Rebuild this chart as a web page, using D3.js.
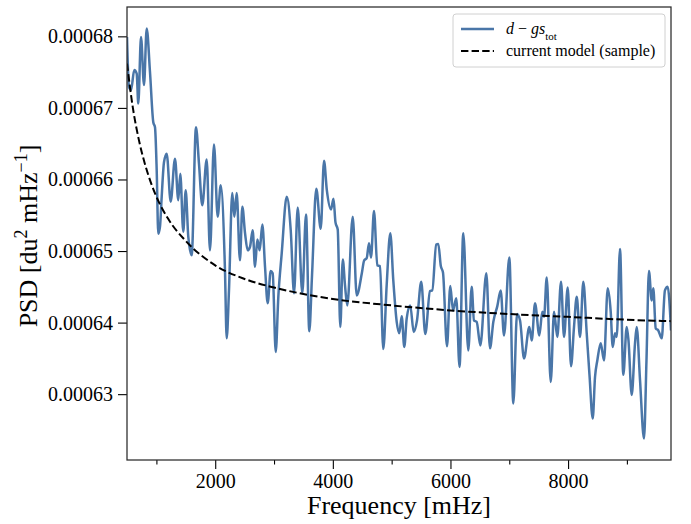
<!DOCTYPE html>
<html>
<head>
<meta charset="utf-8">
<script src="https://cdn.jsdelivr.net/npm/d3@7"></script>
<style>
  html, body { margin: 0; padding: 0; background: #fff; }
  svg { display: block; }
  text { font-family: "Liberation Serif", "DejaVu Serif", serif; fill: #000; }
</style>
</head>
<body>
<svg id="chart" width="691" height="524"></svg>
<script>
// ---- data ----
const freq = [500,534,568,624,665,692,738,789,835,891,947,976,1005,1032,1061,1090,1129,1175,1243,1316,1372,1406,1457,1498,1542,1600,1673,1724,1780,1855,1911,1979,2042,2093,2166,2195,2234,2290,2325,2365,2421,2461,2507,2552,2592,2637,2677,2716,2756,2801,2847,2892,2943,2977,3029,3073,3131,3216,3284,3340,3403,3481,3544,3600,3646,3719,3794,3850,3898,3969,4011,4045,4083,4127,4169,4207,4246,4338,4406,4493,4533,4576,4615,4649,4700,4756,4802,4858,4916,4977,5028,5086,5130,5171,5215,5256,5316,5375,5431,5503,5572,5652,5691,5758,5793,5836,5873,5941,5997,6043,6099,6154,6218,6303,6361,6400,6446,6508,6610,6672,6729,6797,6854,6911,7001,7069,7132,7183,7251,7341,7382,7438,7511,7562,7591,7637,7705,7761,7817,7880,7931,7994,8050,8101,8147,8203,8259,8317,8364,8419,8458,8497,8555,8611,8674,8725,8759,8798,8827,8883,8939,8997,9027,9082,9138,9167,9223,9291,9333,9375,9422,9449,9490,9534,9592,9647,9694,9750];
const residualPSD = [0.0006799,0.0006729,0.0006725,0.0006753,0.0006748,0.0006706,0.0006799,0.0006732,0.0006811,0.0006750,0.0006680,0.0006673,0.0006613,0.0006524,0.0006534,0.0006576,0.0006624,0.0006636,0.0006569,0.0006629,0.0006571,0.0006608,0.0006527,0.0006585,0.0006520,0.0006494,0.0006673,0.0006622,0.0006564,0.0006628,0.0006501,0.0006649,0.0006548,0.0006592,0.0006473,0.0006378,0.0006445,0.0006581,0.0006548,0.0006581,0.0006487,0.0006562,0.0006525,0.0006501,0.0006506,0.0006529,0.0006478,0.0006516,0.0006501,0.0006537,0.0006478,0.0006427,0.0006472,0.0006469,0.0006359,0.0006436,0.0006497,0.0006576,0.0006529,0.0006441,0.0006561,0.0006441,0.0006551,0.0006388,0.0006466,0.0006587,0.0006531,0.0006626,0.0006585,0.0006558,0.0006573,0.0006540,0.0006530,0.0006394,0.0006488,0.0006452,0.0006424,0.0006548,0.0006438,0.0006469,0.0006487,0.0006490,0.0006511,0.0006491,0.0006556,0.0006480,0.0006479,0.0006363,0.0006453,0.0006525,0.0006459,0.0006401,0.0006385,0.0006409,0.0006366,0.0006406,0.0006424,0.0006387,0.0006403,0.0006457,0.0006384,0.0006444,0.0006445,0.0006509,0.0006510,0.0006479,0.0006470,0.0006367,0.0006451,0.0006417,0.0006434,0.0006338,0.0006525,0.0006361,0.0006450,0.0006403,0.0006401,0.0006368,0.0006469,0.0006364,0.0006401,0.0006423,0.0006445,0.0006382,0.0006491,0.0006287,0.0006412,0.0006403,0.0006350,0.0006394,0.0006375,0.0006427,0.0006382,0.0006415,0.0006408,0.0006463,0.0006317,0.0006415,0.0006380,0.0006457,0.0006380,0.0006449,0.0006339,0.0006394,0.0006436,0.0006380,0.0006457,0.0006385,0.0006327,0.0006266,0.0006324,0.0006347,0.0006371,0.0006347,0.0006448,0.0006415,0.0006366,0.0006385,0.0006380,0.0006503,0.0006327,0.0006394,0.0006375,0.0006299,0.0006371,0.0006394,0.0006320,0.0006238,0.0006347,0.0006472,0.0006431,0.0006448,0.0006392,0.0006389,0.0006378,0.0006445,0.0006450,0.0006389];

const modelFreq = [500,600,700,800,900,1000,1200,1500,2000,2500,3000,3500,4000,5000,6000,7000,8000,9000,9750];
const modelPSD  = [0.0006762,0.0006700,0.0006656,0.0006623,0.0006597,0.0006576,0.0006545,0.0006514,0.0006480,0.0006461,0.0006449,0.0006440,0.0006433,0.0006424,0.0006417,0.0006412,0.0006408,0.0006404,0.0006402];

const xMajorTicks = [2000,4000,6000,8000];
const xMinorTicks = [1000,3000,5000,7000,9000];
const yTicks = [0.00063,0.00064,0.00065,0.00066,0.00067,0.00068];
const xLimits = [500, 9750];
const yLimits = [0.0006208, 0.0006841];

// ---- layout ----
const W = 691, H = 524;
const m = {left: 127, right: 20, top: 7, bottom: 64};
const svg = d3.select("#chart");
const SERIF = "'Liberation Serif', 'Times New Roman', serif";

const x = d3.scaleLinear().domain(xLimits).range([m.left, W - m.right]);
const y = d3.scaleLinear().domain(yLimits).range([H - m.bottom, m.top]);

const blue = "#4a76a8";

svg.append("defs").append("clipPath").attr("id","clip")
  .append("rect").attr("x", m.left).attr("y", m.top)
  .attr("width", W - m.left - m.right).attr("height", H - m.top - m.bottom);

const plot = svg.append("g").attr("clip-path","url(#clip)");

// residual line
const resData = freq.map((f,i) => [f, residualPSD[i]]);
plot.append("path")
  .datum(resData)
  .attr("fill","none")
  .attr("stroke", blue)
  .attr("stroke-width", 2.5)
  .attr("stroke-linejoin","round")
  .attr("d", d3.line().x(d => x(d[0])).y(d => y(d[1])).curve(d3.curveMonotoneX));

// model line
const modData = modelFreq.map((f,i) => [f, modelPSD[i]]);
plot.append("path")
  .datum(modData)
  .attr("fill","none")
  .attr("stroke","#000")
  .attr("stroke-width", 2)
  .attr("stroke-dasharray","7.4,3.2")
  .attr("d", d3.line().x(d => x(d[0])).y(d => y(d[1])).curve(d3.curveMonotoneX));

// axes
const fontTick = 20;
svg.append("g").attr("transform", `translate(0,${H - m.bottom})`)
  .call(d3.axisBottom(x).tickValues(xMajorTicks).tickSize(9).tickPadding(5).tickFormat(d3.format("d")))
  .attr("font-family", SERIF).attr("font-size", fontTick);
svg.append("g").attr("transform", `translate(0,${H - m.bottom})`)
  .call(d3.axisBottom(x).tickValues(xMinorTicks).tickSize(4.5).tickFormat(""));
svg.append("g").attr("transform", `translate(${m.left},0)`)
  .call(d3.axisLeft(y).tickValues(yTicks).tickSize(9).tickPadding(5).tickFormat(d => d.toFixed(5)))
  .attr("font-family", SERIF).attr("font-size", fontTick);

svg.selectAll(".domain").remove();
svg.selectAll(".tick line").attr("stroke","#000").attr("stroke-width",1.1);
svg.selectAll(".tick text").attr("fill","#000")
  .style("font-family", SERIF).style("font-size", fontTick + "px");

// frame
svg.append("rect")
  .attr("x", m.left).attr("y", m.top)
  .attr("width", W - m.left - m.right).attr("height", H - m.top - m.bottom)
  .attr("fill","none").attr("stroke","#2a2a2a").attr("stroke-width",1.25);

// axis titles
svg.append("text")
  .attr("x", (m.left + W - m.right) / 2).attr("y", 514)
  .attr("text-anchor","middle")
  .style("font-size","26px")
  .text("Frequency [mHz]");

const yl = svg.append("text")
  .attr("transform", "translate(37,236) rotate(-90)")
  .attr("text-anchor","middle")
  .style("font-size","26px");
yl.append("tspan").text("PSD [du");
yl.append("tspan").attr("baseline-shift","super").style("font-size","18px").text("2");
yl.append("tspan").text(" mHz");
yl.append("tspan").attr("baseline-shift","super").style("font-size","18px").text("−1");
yl.append("tspan").text("]");

// legend
const lg = svg.append("g");
lg.append("rect")
  .attr("x", 453).attr("y", 14).attr("width", 212).attr("height", 53)
  .attr("rx", 3).attr("ry", 3)
  .attr("fill","#fff").attr("fill-opacity",0.85)
  .attr("stroke","#d0d0d0").attr("stroke-width",1);

const legY1 = 29, legY2 = 51;
lg.append("line").attr("x1",461).attr("x2",494).attr("y1",legY1).attr("y2",legY1)
  .attr("stroke", blue).attr("stroke-width",2.5);
lg.append("line").attr("x1",461).attr("x2",494).attr("y1",legY2).attr("y2",legY2)
  .attr("stroke","#000").attr("stroke-width",2).attr("stroke-dasharray","7.4,3.2");

const t1 = lg.append("text").attr("x",506).attr("y",legY1 + 5).style("font-size","16px");
t1.append("tspan").style("font-style","italic").text("d");
t1.append("tspan").text(" − ");
t1.append("tspan").style("font-style","italic").text("gs");
t1.append("tspan").attr("baseline-shift","sub").style("font-size","11px").text("tot");

lg.append("text").attr("x",506).attr("y",legY2 + 5).style("font-size","16px")
  .text("current model (sample)");
</script>
</body>
</html>
